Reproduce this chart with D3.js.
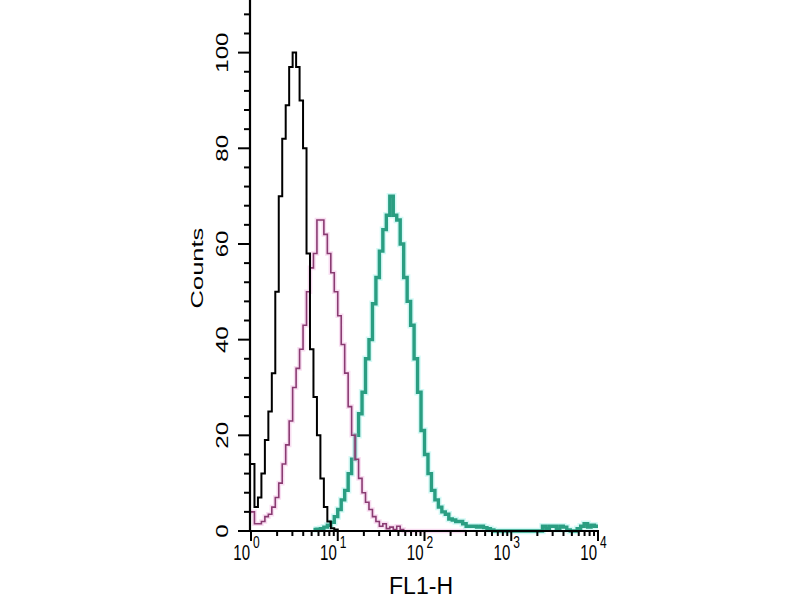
<!DOCTYPE html>
<html>
<head>
<meta charset="utf-8">
<script src="https://cdn.jsdelivr.net/npm/d3@7"></script>
<style>
  body { margin: 0; background: #fff; }
  text { font-family: "Liberation Sans", Arial, sans-serif; fill: #000; }
</style>
</head>
<body>
<svg id="chart" width="800" height="600"></svg>
<script>
// histogram bins: 25 bins per decade, first bin starts at 10^0
var binWidth = 0.04;

// isotype / unstained control (black)
var blackStart = 0;
var blackCounts = [14, 5, 7, 12, 19, 25, 33, 50, 70, 82, 89, 97, 100, 97, 90, 80,
  58, 38, 28, 20, 11, 5, 2, 0.6, 0.3, 0, 0, 0, 0, 0];

// secondary only (magenta)
var magentaStart = 0;
var magentaCounts = [4, 1.5, 1.5, 2, 3, 3.5, 5, 7, 10, 14, 18, 23, 30, 34, 38, 43,
  50, 55, 58, 65, 65, 62, 58, 54, 50, 45, 39, 33, 26, 20, 15, 11, 8, 6, 4.5, 3,
  2, 1, 1.5, 0.5, 0.8, 0.3, 1, 0.3, 0, 0, 0, 0, 0, 0, 0, 0, 0, 0, 0, 0, 0, 0, 0, 0, 0, 0];

// stained sample (teal)
var tealStart = 18;
var tealCounts = [0.3, 0.4, 0.5, 0.8, 1.2, 1.8, 3, 4.5, 6.5, 8.5, 12, 15, 20, 24.5,
  29, 36, 40, 47.5, 53, 58.5, 63, 66, 70, 66, 65, 60, 53, 48, 43, 36, 29, 21, 16,
  12, 8.5, 6.5, 5, 4, 3.5, 2.5, 2.3, 2, 2, 1.5, 1, 1, 1, 0.8, 1, 0.7, 0.5, 0.2,
  0, 0, 0, 0, 0, 0, 0, 0, 0, 0, 0, 0, 0, 0,
  1, 0.5, 1, 1, 0.3, 1, 0.8, 0.2, 0, 0, 0.5, 1, 1.5, 0.8, 1.2, 1];

var yTicks = d3.range(0, 109, 4);
var yLabels = [0, 20, 40, 60, 80, 100];
var xDecades = [0, 1, 2, 3, 4];

var svg = d3.select('#chart');

var x = d3.scaleLog().domain([1, 1e4]).range([251, 598]);
var y = d3.scaleLinear().domain([0, 111]).range([531, 0]);

function stepPoints(start, counts){
  var pts = counts.map(function(c, i){
    return [Math.pow(10, (start + i) * binWidth), c];
  });
  pts.push([Math.pow(10, (start + counts.length) * binWidth), counts[counts.length - 1]]);
  return pts;
}

var line = d3.line()
  .x(function(d){ return x(d[0]); })
  .y(function(d){ return y(d[1]); })
  .curve(d3.curveStepAfter);

var series = [
  {start: tealStart, counts: tealCounts, color: '#2a9e82', halo: '#9ff2ec', w: 3.4},
  {start: magentaStart, counts: magentaCounts, color: '#8a3b72', halo: '#f0b4e0', w: 1.6},
  {start: blackStart, counts: blackCounts, color: '#000', halo: null, w: 2}
];

var plot = svg.append('g').attr('class', 'plot');
series.forEach(function(s){
  var d = line(stepPoints(s.start, s.counts));
  if (s.halo) {
    plot.append('path').attr('d', d).attr('fill', 'none')
      .attr('stroke', s.halo).attr('stroke-width', s.w + 3).attr('opacity', 0.45);
  }
  plot.append('path').attr('d', d).attr('fill', 'none')
    .attr('stroke', s.color).attr('stroke-width', s.w);
});

// x axis: decade ticks long, 2..9 short
var xTickVals = [];
xDecades.forEach(function(p){
  xTickVals.push({v: Math.pow(10, p), major: true});
  if (p < 4) for (var k = 2; k < 10; k++) xTickVals.push({v: k * Math.pow(10, p), major: false});
});

var gx = svg.append('g').attr('class', 'xAxis');
gx.append('line')
  .attr('x1', x.range()[0] - 1).attr('x2', x.range()[1] + 1)
  .attr('y1', y(0)).attr('y2', y(0))
  .attr('stroke', '#000').attr('stroke-width', 2.2);
gx.selectAll('.xtick').data(xTickVals).enter().append('line')
  .attr('class', 'xtick')
  .attr('x1', function(d){ return x(d.v); })
  .attr('x2', function(d){ return x(d.v); })
  .attr('y1', y(0))
  .attr('y2', function(d){ return y(0) + (d.major ? 10 : 5); })
  .attr('stroke', '#000').attr('stroke-width', 2);

var xl = svg.append('g').attr('class', 'xLabels');
xDecades.forEach(function(p){
  var tx = x(Math.pow(10, p));
  xl.append('text')
    .attr('transform', 'translate(' + (tx - 1) + ',560) scale(1,1.45)')
    .attr('text-anchor', 'end')
    .style('font-size', '15px')
    .text('10');
  xl.append('text')
    .attr('transform', 'translate(' + (tx + 2) + ',548) scale(1,1.45)')
    .style('font-size', '12px')
    .text(p);
});

// y axis
var gy = svg.append('g').attr('class', 'yAxis');
gy.append('line')
  .attr('x1', 250).attr('x2', 250)
  .attr('y1', y(111)).attr('y2', y(0) + 1)
  .attr('stroke', '#000').attr('stroke-width', 2.2);
gy.selectAll('.ytick').data(yTicks).enter().append('line')
  .attr('class', 'ytick')
  .attr('x1', 250)
  .attr('x2', function(d){ return d % 20 === 0 ? 238 : 244; })
  .attr('y1', function(d){ return y(d); })
  .attr('y2', function(d){ return y(d); })
  .attr('stroke', '#000').attr('stroke-width', 2);

var yl = svg.append('g').attr('class', 'yLabels');
yLabels.forEach(function(v){
  yl.append('text')
    .attr('transform', 'translate(228,' + y(v) + ') scale(1,1.5) rotate(-90)')
    .attr('text-anchor', 'middle')
    .style('font-size', '16px')
    .text(v);
});

svg.append('text')
  .attr('transform', 'translate(203,268) scale(1,1.5) rotate(-90)')
  .attr('text-anchor', 'middle')
  .style('font-size', '17px')
  .text('Counts');

svg.append('text')
  .attr('transform', 'translate(421,594) scale(1,1.35)')
  .attr('text-anchor', 'middle')
  .style('font-size', '18px')
  .attr('textLength', 64)
  .attr('lengthAdjust', 'spacingAndGlyphs')
  .text('FL1-H');
</script>
</body>
</html>
